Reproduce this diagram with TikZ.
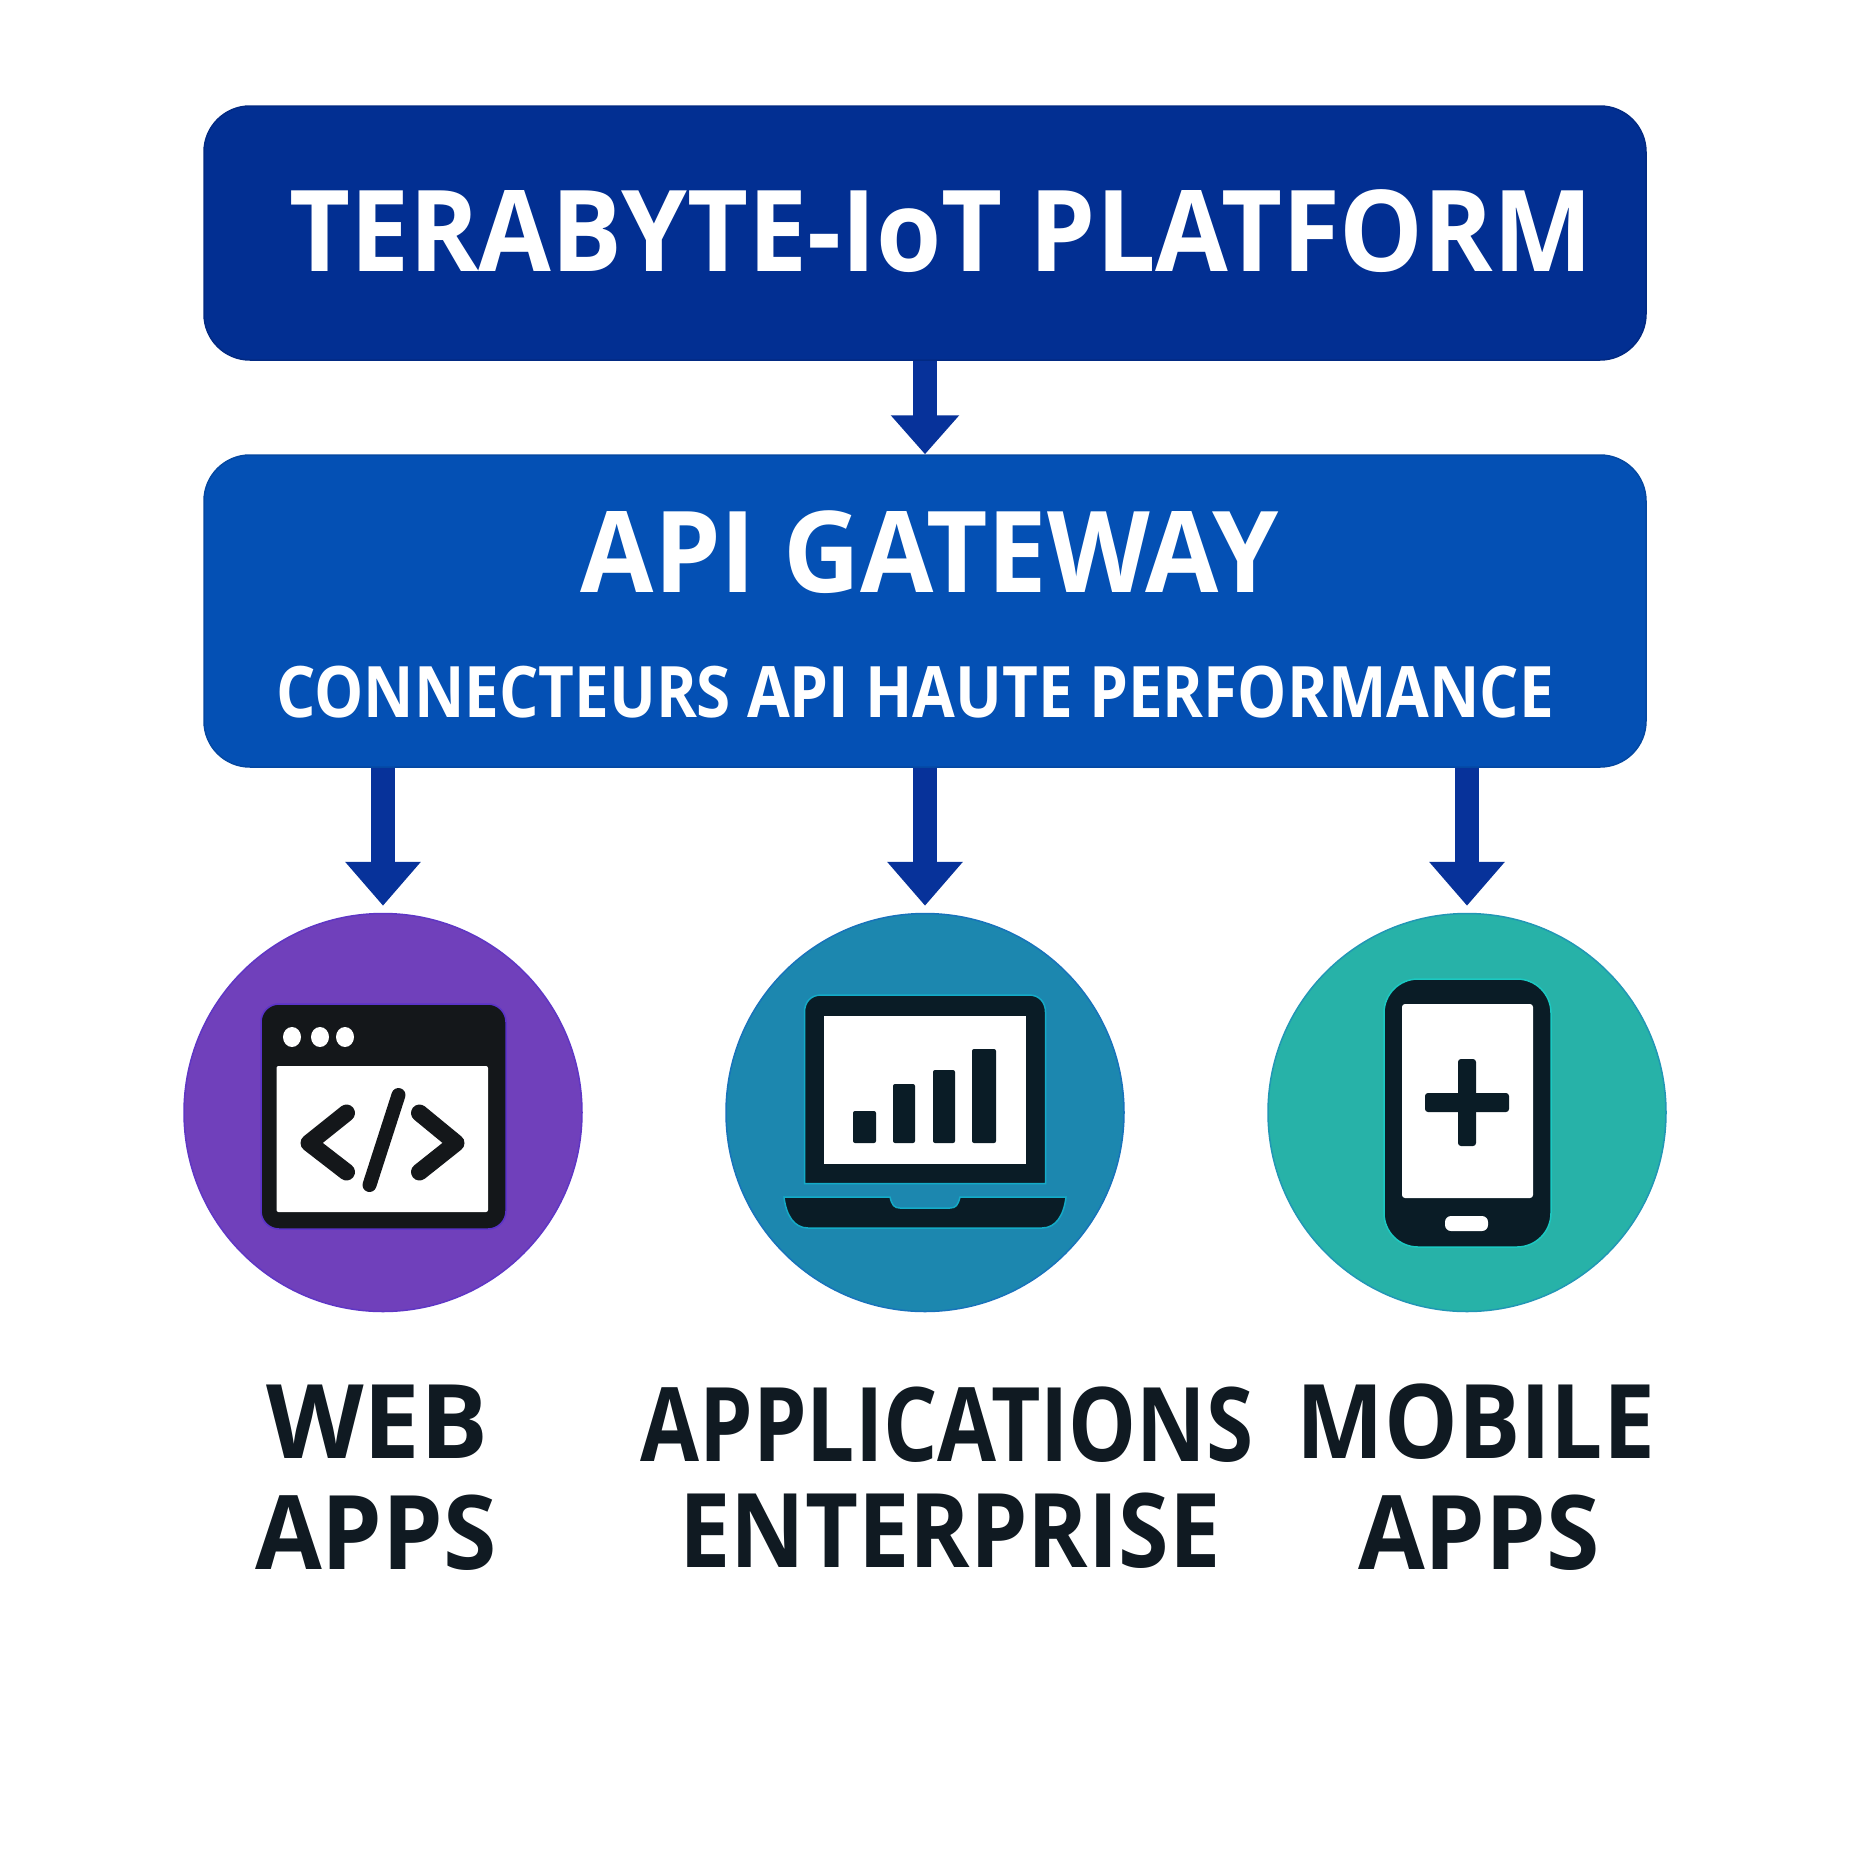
\documentclass[tikz,border=0pt]{standalone}
\usepackage{fontspec}
\setmainfont{Open Sans}
\usetikzlibrary{arrows.meta,calc}
\definecolor{topblue}{HTML}{022F92}
\definecolor{gwblue}{HTML}{0450B4}
\definecolor{arrowblue}{HTML}{07329A}
\definecolor{cpurple}{HTML}{7040BB}
\definecolor{cblue}{HTML}{1C87AF}
\definecolor{cteal}{HTML}{27B2A8}
\definecolor{inkwin}{HTML}{14171A}
\definecolor{inkdev}{HTML}{0A1C26}
\definecolor{labelink}{HTML}{101A22}
\tikzset{
  panel/.style={draw=#1!90!black,line width=1.5pt,fill=#1,rounded corners=46pt,minimum width=1442pt,inner sep=0pt},
  disc/.style={circle,fill=#1,draw=#1!85!blue,line width=1.5pt,minimum size=398pt,inner sep=0pt},
  flow/.style={arrowblue,line width=24pt,-{Triangle[width=#1,length=39pt]}},
  flowb/.style={arrowblue,line width=24pt,-{Triangle[width=#1,length=44pt]}},
  wtxt/.style={anchor=base,text=white,font=\bfseries,inner sep=0pt},
  ltxt/.style={anchor=base,text=labelink,font=\bfseries\fontsize{103}{103}\selectfont,inner sep=0pt},
  scr/.style={fill=white},
  stroke/.style={line width=#1,line cap=round,line join=round}
}
\begin{document}
\begin{tikzpicture}[x=1pt,y=-1pt]
\useasboundingbox (0,0) rectangle (1850,1850);
\fill[white] (0,0) rectangle (1850,1850);
% panels
\node[panel=topblue,minimum height=254pt] (platform) at (925,233) {};
\node[panel=gwblue,minimum height=312pt] (gateway) at (925,611) {};
\node[wtxt] (ttitle) at (941,271) {\fontsize{113}{113}\selectfont\scalebox{0.933}[1]{TERABYTE-IoT PLATFORM}};
\node[wtxt] (gtitle) at (930,592) {\fontsize{113}{113}\selectfont\scalebox{0.94}[1]{API GATEWAY}};
\node[wtxt] (gsub) at (915,717) {\fontsize{71}{71}\selectfont\scalebox{0.873}[1]{CONNECTEURS API HAUTE PERFORMANCE}};
% discs
\node[disc=cpurple] (web) at (383,1112.5) {};
\node[disc=cblue] (ent) at (925,1112.5) {};
\node[disc=cteal] (mob) at (1467,1112.5) {};
% connectors
\draw[flow=66pt] (platform.south) -- (gateway.north);
\draw[flowb=73pt,shorten >=7pt] (gateway.south -| web.north) -- (web.north);
\draw[flowb=73pt,shorten >=7pt] (gateway.south -| ent.north) -- (ent.north);
\draw[flowb=73pt,shorten >=7pt] (gateway.south -| mob.north) -- (mob.north);
% window icon
\fill[inkwin,draw=cpurple!80!blue,line width=1.5pt,rounded corners=18pt] (261,1004) rectangle (506,1229);
\fill[scr,rounded corners=2pt] (276.5,1066) rectangle (488,1212);
\foreach \x in {292,320,345} \fill[white] (\x,1037) ellipse (9 and 10);
\draw[inkwin,stroke=17pt] (346.5,1113) -- (309,1143) -- (346.5,1172);
\draw[inkwin,stroke=17pt] (419.5,1113) -- (456,1143) -- (419.5,1172);
\draw[inkwin,stroke=14pt] (398.5,1095) -- (369.5,1185);
% laptop icon
\fill[inkdev,draw=cblue!70!cyan,line width=1.5pt] (804.5,1183.5) -- (804.5,1012) .. controls (804.5,1002) and (811,995) .. (821,995) -- (1029,995) .. controls (1039,995) and (1045.5,1002) .. (1045.5,1012) -- (1045.5,1183.5) -- cycle;
\fill[scr] (823.5,1016) rectangle (1026,1164);
\fill[inkdev,rounded corners=2pt] (853,1111) rectangle (876,1143);
\fill[inkdev,rounded corners=2pt] (893,1084) rectangle (915,1143);
\fill[inkdev,rounded corners=2pt] (933,1070) rectangle (955,1143);
\fill[inkdev,rounded corners=2pt] (972,1049) rectangle (996,1143);
\fill[inkdev,draw=cblue!70!cyan,line width=1.5pt] (784,1197) -- (890,1197) .. controls (892,1205) and (894,1208) .. (900,1208) -- (950,1208) .. controls (956,1208) and (958,1205) .. (960,1197) -- (1066,1197) .. controls (1064,1215) and (1056,1228) .. (1042,1228) -- (808,1228) .. controls (794,1228) and (786,1215) .. (784,1197) -- cycle;
% phone icon
\fill[inkdev,draw=cteal!70!cyan,line width=1.5pt,rounded corners=34pt] (1384,979) rectangle (1551,1247);
\fill[scr,rounded corners=3pt] (1402,1004) rectangle (1533,1198);
\fill[inkdev,rounded corners=3pt] (1458,1059) rectangle (1476,1146);
\fill[inkdev,rounded corners=3pt] (1425,1093) rectangle (1509,1112);
\fill[white,rounded corners=6pt] (1445,1216) rectangle (1488,1231);
% labels
\node[ltxt] (l1a) at (377,1458) {\scalebox{0.98}[1]{WEB}};
\node[ltxt] (l1b) at (376,1569) {\scalebox{0.94}[1]{APPS}};
\node[ltxt] (l2a) at (947,1461) {\scalebox{0.83}[1]{APPLICATIONS}};
\node[ltxt] (l2b) at (950,1567) {\scalebox{0.89}[1]{ENTERPRISE}};
\node[ltxt] (l3a) at (1476,1458) {\scalebox{0.9}[1]{MOBILE}};
\node[ltxt] (l3b) at (1479,1569) {\scalebox{0.94}[1]{APPS}};
\end{tikzpicture}
\end{document}
